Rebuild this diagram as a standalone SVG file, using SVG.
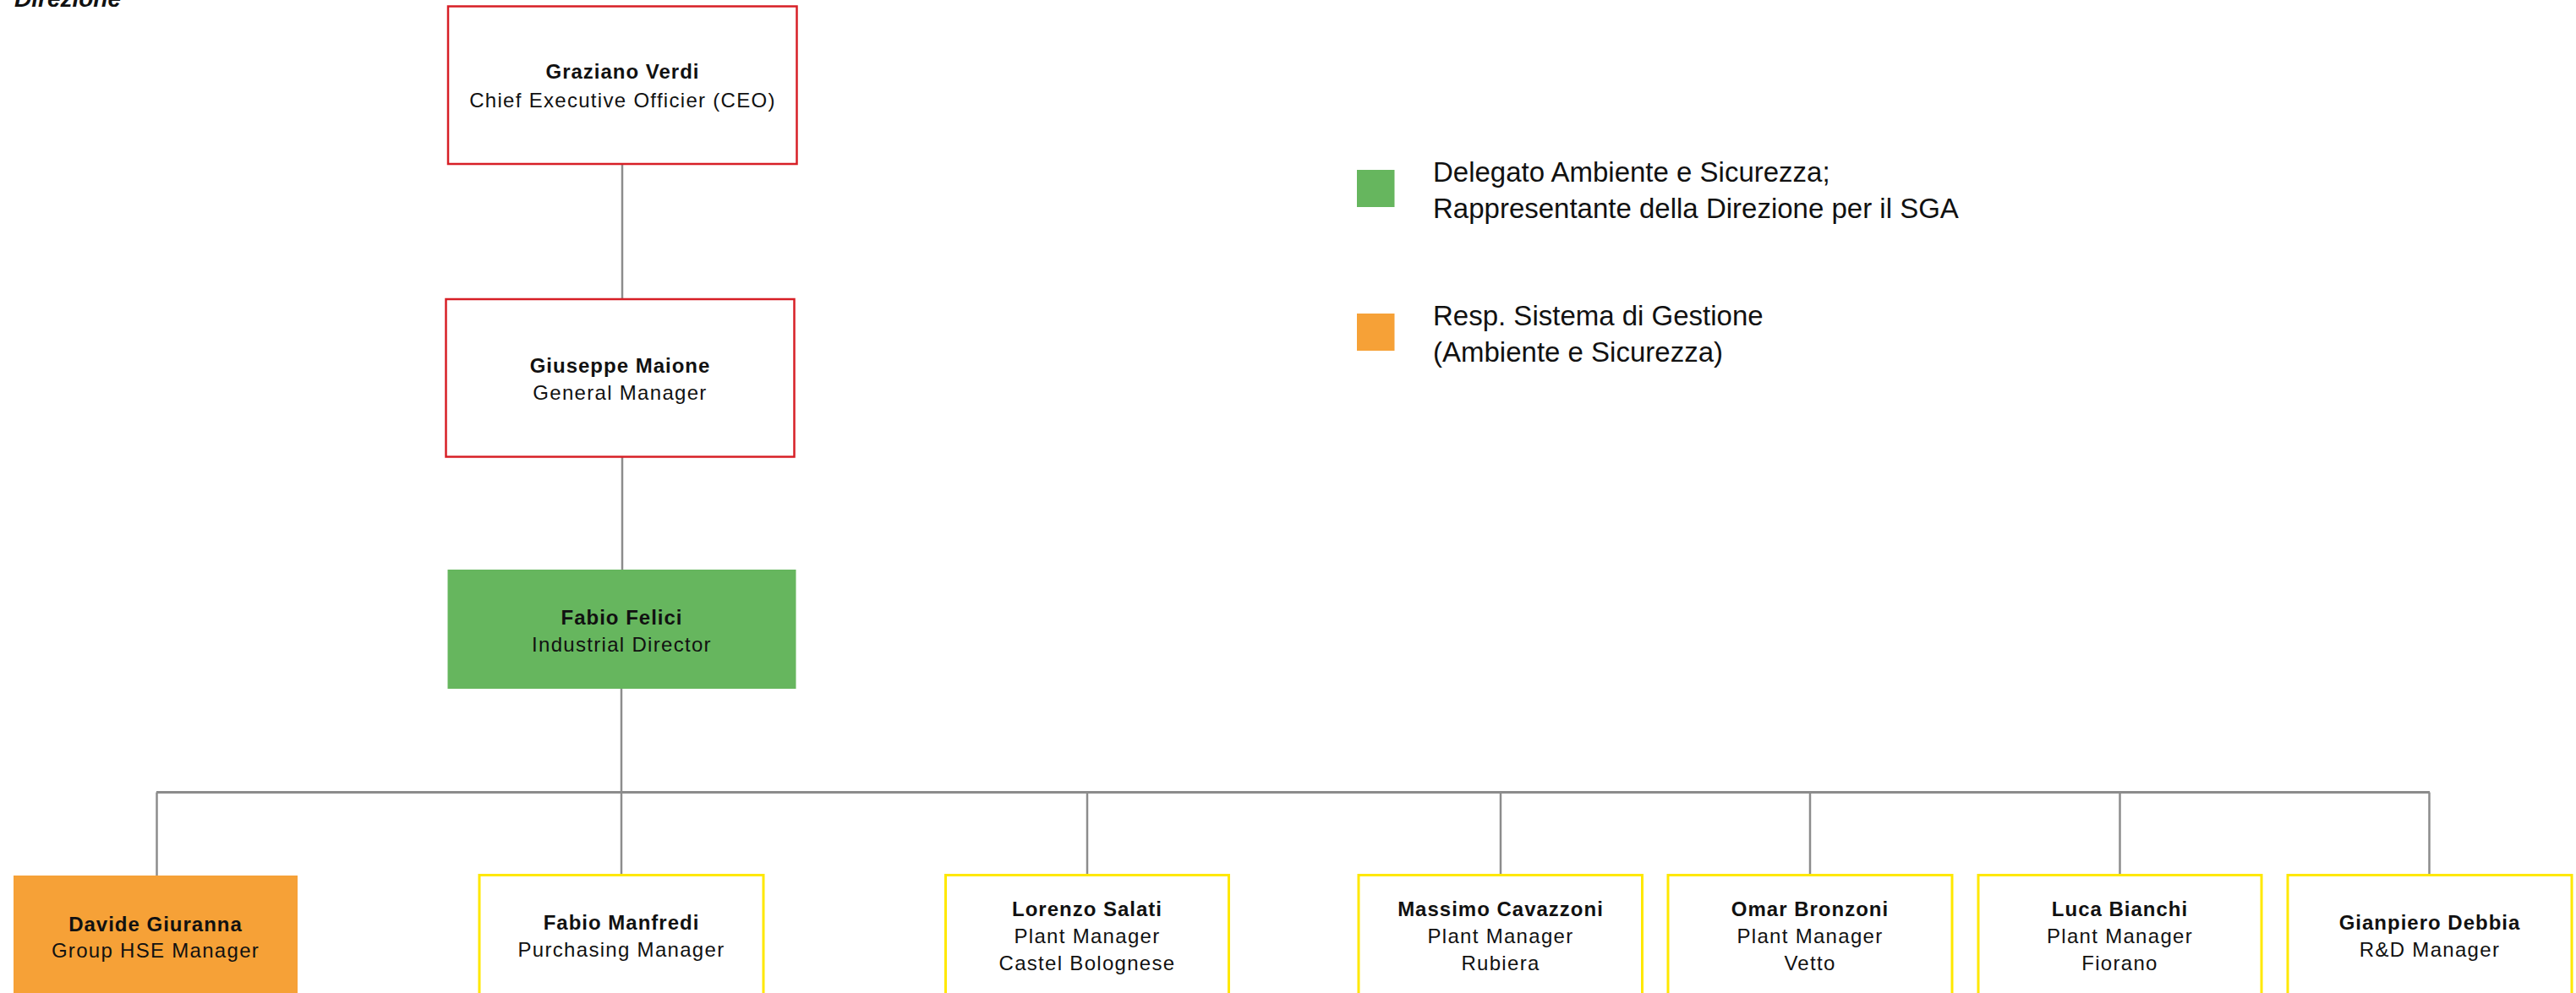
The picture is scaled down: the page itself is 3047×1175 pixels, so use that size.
<svg xmlns="http://www.w3.org/2000/svg" width="3047" height="1175" viewBox="0 0 3047 1175">
<style>
.bg{fill:#ffffff}
.red{fill:#ffffff;stroke:#d71f26;stroke-width:2.5}
.yel{fill:#ffffff;stroke:#ffe800;stroke-width:3}
.green{fill:#66b65e}
.orange{fill:#f6a137}
.conn{fill:none;stroke:#8c8c8c;stroke-width:2.5}
.t{font-family:"Liberation Sans",Arial,sans-serif;font-size:24px;fill:#111111;text-anchor:middle;letter-spacing:1.3px}
.b{font-weight:bold;letter-spacing:1px}
.leg{font-family:"Liberation Sans",Arial,sans-serif;font-size:33px;fill:#111111}
.title{font-family:"Liberation Sans",Arial,sans-serif;font-size:28px;font-weight:bold;font-style:italic;fill:#111111}
</style>
<rect class="bg" x="0" y="0" width="3047" height="1175"/>
<text class="title" x="17" y="8">Direzione</text>

<g id="connectors">
  <line class="conn" x1="736" y1="195" x2="736" y2="354"/>
  <line class="conn" x1="736" y1="541" x2="736" y2="674"/>
  <line class="conn" x1="735" y1="815" x2="735" y2="1035"/>
  <line class="conn" x1="185" y1="937.5" x2="2874" y2="937.5" style="stroke-width:3"/>
  <line class="conn" x1="185.5" y1="937.5" x2="185.5" y2="1036"/>
  <line class="conn" x1="1286" y1="937.5" x2="1286" y2="1035"/>
  <line class="conn" x1="1775" y1="937.5" x2="1775" y2="1035"/>
  <line class="conn" x1="2141" y1="937.5" x2="2141" y2="1035"/>
  <line class="conn" x1="2507.5" y1="937.5" x2="2507.5" y2="1035"/>
  <line class="conn" x1="2873.5" y1="937.5" x2="2873.5" y2="1035"/>
</g>

<g id="node-ceo">
  <rect class="red" x="530" y="7.5" width="412.5" height="186.5"/>
  <text class="t b" x="736.5" y="93">Graziano Verdi</text>
  <text class="t" x="736.5" y="127">Chief Executive Officier (CEO)</text>
</g>
<g id="node-gm">
  <rect class="red" x="527.5" y="354" width="412" height="186.5"/>
  <text class="t b" x="733.5" y="441">Giuseppe Maione</text>
  <text class="t" x="733.5" y="473">General Manager</text>
</g>
<g id="node-industrial">
  <rect class="green" x="529.5" y="674" width="412" height="141"/>
  <text class="t b" x="735.5" y="739">Fabio Felici</text>
  <text class="t" x="735.5" y="771">Industrial Director</text>
</g>

<g id="node-hse">
  <rect class="orange" x="16" y="1036" width="336" height="200"/>
  <text class="t b" x="184" y="1102">Davide Giuranna</text>
  <text class="t" x="184" y="1133">Group HSE Manager</text>
</g>
<g id="node-purchasing">
  <rect class="yel" x="567" y="1035.5" width="336" height="200"/>
  <text class="t b" x="735" y="1100">Fabio Manfredi</text>
  <text class="t" x="735" y="1132">Purchasing Manager</text>
</g>
<g id="node-castel">
  <rect class="yel" x="1118.5" y="1035.5" width="335" height="200"/>
  <text class="t b" x="1286" y="1084">Lorenzo Salati</text>
  <text class="t" x="1286" y="1116">Plant Manager</text>
  <text class="t" x="1286" y="1148">Castel Bolognese</text>
</g>
<g id="node-rubiera">
  <rect class="yel" x="1607" y="1035.5" width="335.5" height="200"/>
  <text class="t b" x="1775" y="1084">Massimo Cavazzoni</text>
  <text class="t" x="1775" y="1116">Plant Manager</text>
  <text class="t" x="1775" y="1148">Rubiera</text>
</g>
<g id="node-vetto">
  <rect class="yel" x="1973" y="1035.5" width="336" height="200"/>
  <text class="t b" x="2141" y="1084">Omar Bronzoni</text>
  <text class="t" x="2141" y="1116">Plant Manager</text>
  <text class="t" x="2141" y="1148">Vetto</text>
</g>
<g id="node-fiorano">
  <rect class="yel" x="2340" y="1035.5" width="335" height="200"/>
  <text class="t b" x="2507.5" y="1084">Luca Bianchi</text>
  <text class="t" x="2507.5" y="1116">Plant Manager</text>
  <text class="t" x="2507.5" y="1148">Fiorano</text>
</g>
<g id="node-rd">
  <rect class="yel" x="2706" y="1035.5" width="336" height="200"/>
  <text class="t b" x="2874" y="1100">Gianpiero Debbia</text>
  <text class="t" x="2874" y="1132">R&amp;D Manager</text>
</g>

<g id="legend">
  <rect class="green" x="1605" y="201" width="44.5" height="44"/>
  <text class="leg" x="1695" y="215">Delegato Ambiente e Sicurezza;</text>
  <text class="leg" x="1695" y="258">Rappresentante della Direzione per il SGA</text>
  <rect class="orange" x="1605" y="371" width="44.5" height="44"/>
  <text class="leg" x="1695" y="385">Resp. Sistema di Gestione</text>
  <text class="leg" x="1695" y="428">(Ambiente e Sicurezza)</text>
</g>
</svg>
